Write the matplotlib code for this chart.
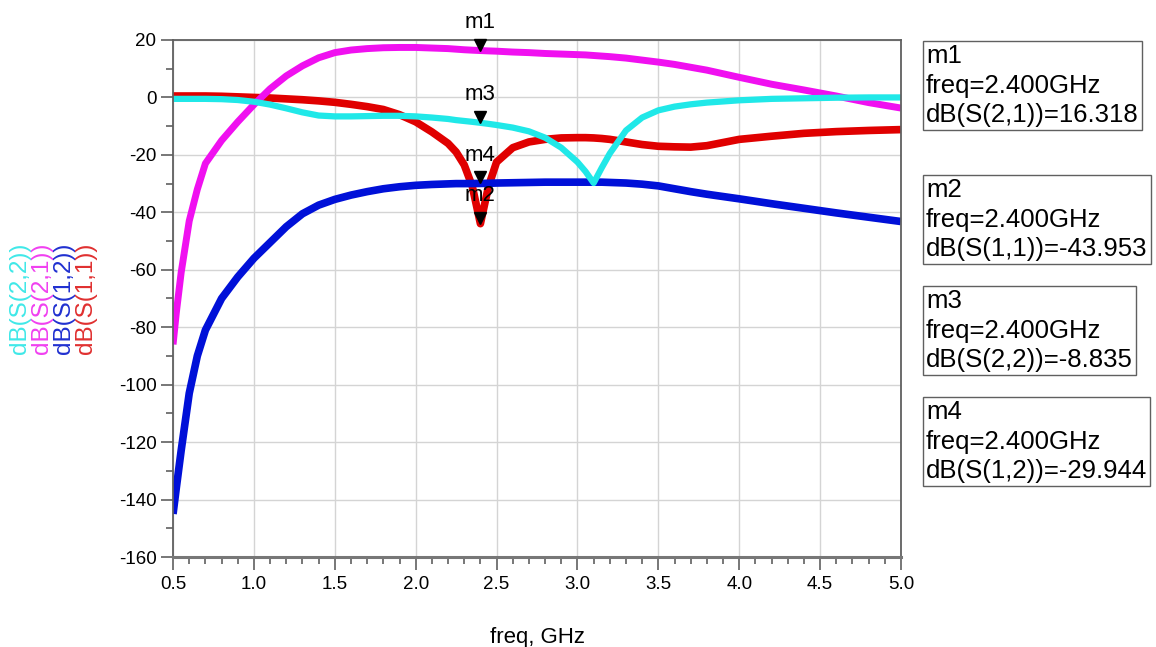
import matplotlib as mpl
import matplotlib.pyplot as plt
import matplotlib.transforms as mtransforms
from matplotlib.ticker import MultipleLocator

mpl.rcParams["font.family"] = ["Liberation Sans", "DejaVu Sans"]
mpl.rcParams["axes.unicode_minus"] = False

# 주파수 축 (GHz)
freq = [0.5, 0.52, 0.55, 0.6, 0.65, 0.7, 0.8, 0.9, 1.0, 1.1, 1.2, 1.3, 1.4, 1.5, 1.6,
        1.7, 1.8, 1.9, 2.0, 2.1, 2.2, 2.25, 2.3, 2.35, 2.4, 2.45, 2.5, 2.6, 2.7, 2.8,
        2.9, 3.0, 3.05, 3.1, 3.15, 3.2, 3.3, 3.4, 3.5, 3.6, 3.7, 3.8, 4.0, 4.2, 4.4,
        4.6, 4.8, 5.0]

s11 = [0.5, 0.5, 0.5, 0.5, 0.5, 0.5, 0.4, 0.2, 0.0, -0.2, -0.5, -0.8, -1.2, -1.7, -2.4,
       -3.2, -4.2, -6.0, -8.5, -12.0, -16.0, -19.0, -23.5, -31.0, -43.953, -31.0, -22.5,
       -17.5, -15.5, -14.6, -14.1, -14.0, -14.0, -14.1, -14.3, -14.6, -15.5, -16.4, -17.0,
       -17.2, -17.3, -16.8, -14.6, -13.5, -12.5, -11.9, -11.5, -11.2]

s12 = [-145, -136, -123, -103, -90, -81, -70, -62.5, -56, -50.5, -45, -40.5, -37.5, -35.5,
       -34, -32.8, -31.8, -31.1, -30.6, -30.3, -30.1, -30.0, -30.0, -29.97, -29.944, -29.9,
       -29.8, -29.7, -29.6, -29.5, -29.5, -29.5, -29.5, -29.5, -29.5, -29.6, -29.8, -30.2,
       -30.8, -31.8, -32.8, -33.7, -35.3, -37.0, -38.6, -40.2, -41.7, -43.2]

s21 = [-86, -75, -61, -43, -32, -23, -15, -8.5, -2.5, 3.0, 7.5, 11.0, 13.8, 15.6, 16.5,
       17.0, 17.3, 17.4, 17.4, 17.2, 17.0, 16.8, 16.6, 16.45, 16.318, 16.2, 16.1, 15.8,
       15.6, 15.3, 15.1, 14.9, 14.8, 14.6, 14.4, 14.2, 13.7, 13.0, 12.3, 11.5, 10.5, 9.5,
       7.0, 4.6, 2.6, 0.5, -1.8, -3.7]

s22 = [-0.5, -0.5, -0.5, -0.5, -0.5, -0.5, -0.6, -0.9, -1.5, -2.5, -3.8, -5.2, -6.3, -6.6,
       -6.6, -6.5, -6.4, -6.4, -6.6, -7.0, -7.5, -7.9, -8.2, -8.5, -8.835, -9.2, -9.6,
       -10.5, -11.8, -14.0, -17.5, -22.5, -25.8, -29.8, -24.5, -19.5, -11.5, -7.0, -4.5,
       -3.2, -2.4, -1.8, -1.0, -0.5, -0.3, -0.1, 0.0, 0.0]

# 마커 정보
marker_names = ["m1", "m2", "m3", "m4"]
marker_freq = [2.4, 2.4, 2.4, 2.4]
marker_vals = [16.318, -43.953, -8.835, -29.944]
marker_traces = ["dB(S(2,1))", "dB(S(1,1))", "dB(S(2,2))", "dB(S(1,2))"]

fig = plt.figure(figsize=(11.56, 6.47), dpi=100)
ax = fig.add_axes([0.1497, 0.1391, 0.6297, 0.7991])

# 트레이스 순서: S11, S12, S21, S22
ax.plot(freq, s11, color="#e00000", lw=5.5, solid_capstyle="butt")
ax.plot(freq, s12, color="#0010d8", lw=5.5, solid_capstyle="butt")
ax.plot(freq, s21, color="#f010f0", lw=5, solid_capstyle="butt")
ax.plot(freq, s22, color="#20e8e8", lw=4.5, solid_capstyle="butt")

# 마커 (삼각형 끝이 데이터 위치)
tri_tr = mtransforms.offset_copy(ax.transData, fig=fig, y=6, units="dots")
lbl_tr = mtransforms.offset_copy(ax.transData, fig=fig, y=28, units="dots")
for name, f, v in zip(marker_names, marker_freq, marker_vals):
    ax.plot([f], [v], marker="v", color="black", markersize=9, transform=tri_tr,
            clip_on=False, zorder=5)
    ax.text(f, v, name, transform=lbl_tr, ha="center", va="center", fontsize=16,
            color="black", zorder=6, clip_on=False)

ax.set_xlim(0.5, 5.0)
ax.set_ylim(-160, 20)
ax.xaxis.set_major_locator(MultipleLocator(0.5))
ax.xaxis.set_minor_locator(MultipleLocator(0.1))
ax.yaxis.set_major_locator(MultipleLocator(20))
ax.yaxis.set_minor_locator(MultipleLocator(10))
ax.xaxis.set_major_formatter(mpl.ticker.FormatStrFormatter("%.1f"))

ax.grid(True, which="major", color="#d4d4d4", lw=1)
ax.set_axisbelow(True)
for sp in ax.spines.values():
    sp.set_color("#606060")
    sp.set_linewidth(1.3)
ax.spines["bottom"].set_linewidth(2.2)
ax.spines["bottom"].set_color("#777777")

ax.tick_params(which="major", direction="out", length=9, width=1.2, color="#606060",
               labelsize=13.5, pad=3)
ax.tick_params(which="minor", direction="out", length=5, width=1.2, color="#606060")
ax.tick_params(axis="x", which="major", pad=5)

ax.set_xlabel("freq, GHz", fontsize=16, labelpad=24)

# 왼쪽 세로 라벨
ylabels = ["dB(S(2,2))", "dB(S(2,1))", "dB(S(1,2))", "dB(S(1,1))"]
ycolors = ["#40e8e8", "#f040f0", "#2030d0", "#e03030"]
for i, (t, c) in enumerate(zip(ylabels, ycolors)):
    fig.text((20 + i * 22) / 1156, 1 - 298 / 647, t, rotation=90, color=c, fontsize=17.5,
             ha="center", va="center")

# 오른쪽 마커 박스
box_tops = [44, 178, 289, 400]
for name, f, v, tr, top in zip(marker_names, marker_freq, marker_vals, marker_traces, box_tops):
    txt = "%s\nfreq=%.3fGHz\n%s=%.3f" % (name, f, tr, v)
    fig.text(926 / 1156, 1 - top / 647, txt, fontsize=18.5, ha="left", va="top",
             linespacing=1.3,
             bbox=dict(boxstyle="square,pad=0.12", fc="white", ec="#606060", lw=1))

fig.savefig("out.png", dpi=100)
